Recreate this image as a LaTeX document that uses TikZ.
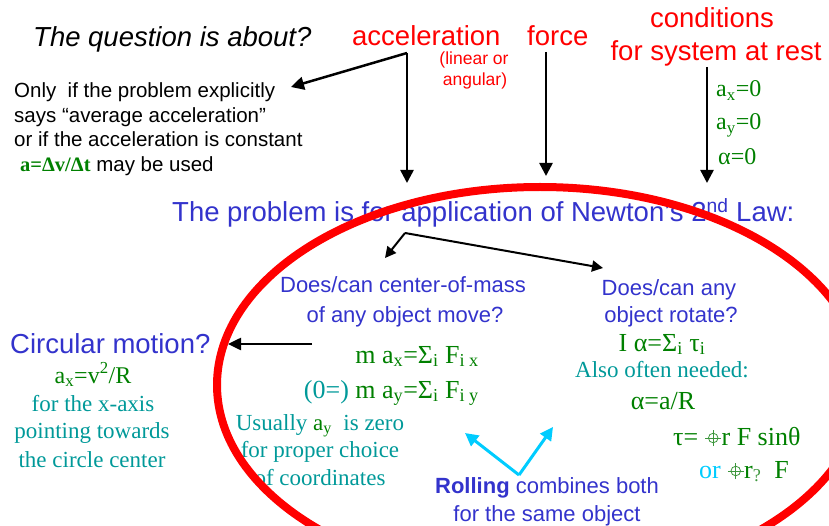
\documentclass[tikz,border=0pt]{standalone}
\usepackage{fontspec}
\setmainfont{Liberation Serif}
\newfontfamily\arialf{Liberation Sans}
\usetikzlibrary{arrows.meta}
\definecolor{myred}{RGB}{255,0,0}
\definecolor{myblue}{RGB}{51,51,204}
\definecolor{mygreen}{RGB}{0,128,0}
\definecolor{mylgreen}{RGB}{60,150,60}
\definecolor{myteal}{RGB}{0,153,153}
\definecolor{mycyan}{RGB}{0,204,255}
\newcommand\fsz[1]{\fontsize{#1}{#1}\selectfont}
\newcommand\xhair{\tikz[baseline=-7pt,x=1pt,y=1pt,line width=0.8pt,draw=mylgreen]{\draw (0,0) circle (4.8); \draw (-8,0)--(8,0) (0,-8)--(0,8);}}
\begin{document}
\begin{tikzpicture}[x=1pt,y=-1pt,
  bigsans/.style={font=\arialf\fsz{27.5}},
  midsans/.style={font=\arialf\fsz{20.5}},
  qsans/.style={font=\arialf\fsz{22}},
  smallsans/.style={font=\arialf\fsz{17.5}},
  eqserif/.style={font=\rmfamily\fsz{26},text=mygreen},
  tealserif/.style={font=\rmfamily\fsz{23},text=myteal},
  bigarrow/.style={line width=2.5pt,-{Triangle[length=13pt,width=13pt]}},
  midarrow/.style={line width=2pt,-{Triangle[length=11pt,width=11pt]}},
  cyanarrow/.style={line width=3pt,mycyan,-{Triangle[length=13pt,width=13pt]}},
  every node/.style={inner sep=0pt}]
\useasboundingbox (0,0) rectangle (829,526);
\clip (0,0) rectangle (829,526);
% top row
\node[bigsans,anchor=base west] (question) at (33,47) {\itshape The question is about?};
\node[bigsans,text=myred,anchor=base west] (accel) at (352,46) {acceleration};
\node[smallsans,text=myred,anchor=base] (lin1) at (474,65) {(linear or};
\node[smallsans,text=myred,anchor=base] (lin2) at (475,86) {angular)};
\node[bigsans,text=myred,anchor=base west] (force) at (527,46) {force};
\node[bigsans,text=myred,anchor=base] (cond1) at (712,28) {conditions};
\node[bigsans,text=myred,anchor=base] (cond2) at (716,61) {for system at rest};
% left block
\node[midsans,anchor=base west] (only1) at (14,98) {Only\ \ if the problem explicitly};
\node[midsans,anchor=base west] (only2) at (14,123) {says “average acceleration”};
\node[midsans,anchor=base west] (only3) at (14,147) {or if the acceleration is constant};
\node[midsans,anchor=base west] (only4) at (20,172) {{\rmfamily\bfseries\color{mygreen}a=Δv/Δt} may be used};
% rest conditions
\node[eqserif,font=\rmfamily\fsz{24},anchor=base west] (ax0) at (716,97) {a\textsubscript{x}=0};
\node[eqserif,font=\rmfamily\fsz{24},anchor=base west] (ay0) at (716,130) {a\textsubscript{y}=0};
\node[eqserif,font=\rmfamily\fsz{24},anchor=base west] (al0) at (718,165) {α=0};
% arrows from top
\coordinate (accfork) at (407,53);
\coordinate (acctip) at (407,183);
\coordinate (onlytip) at (291,87);
\coordinate (forcetop) at (546,52);
\coordinate (forcetip) at (546,176);
\coordinate (condtop) at (707,67);
\coordinate (condtip) at (707,183);
\draw[bigarrow] (accfork) -- (acctip);
\draw[bigarrow] (accfork) -- (onlytip);
\draw[bigarrow] (forcetop) -- (forcetip);
\draw[bigarrow] (condtop) -- (condtip);
% problem line
\node[bigsans,text=myblue,anchor=base west] (problem) at (172,222) {The problem is for application of Newton’s 2\textsuperscript{nd} Law:};
\coordinate (pfork) at (405,233);
\coordinate (comtip) at (385,258);
\coordinate (rottip) at (603,268);
\draw[midarrow] (pfork) -- (comtip);
\draw[midarrow] (pfork) -- (rottip);
% center of mass
\node[qsans,text=myblue,anchor=base] (com1) at (403,293) {Does/can center-of-mass};
\node[qsans,text=myblue,anchor=base] (com2) at (405,322) {of any object move?};
\node[eqserif,anchor=base east] (eqx) at (479,363) {m a\textsubscript{x}=Σ\textsubscript{i} F\textsubscript{i x}};
\node[eqserif,anchor=base east] (eqy) at (479,398) {\textcolor{myteal}{(0=)} m a\textsubscript{y}=Σ\textsubscript{i} F\textsubscript{i y}};
\node[tealserif,anchor=base] (u1) at (320,430) {Usually \textcolor{mygreen}{a\textsubscript{y}}\ \ is zero};
\node[tealserif,anchor=base] (u2) at (320,457) {for proper choice};
\node[tealserif,anchor=base] (u3) at (320,485) {of coordinates};
% circular motion
\node[bigsans,text=myblue,anchor=base west] (circ) at (10,353) {Circular motion?};
\coordinate (circtail) at (312,344);
\coordinate (circtip) at (228,344);
\draw[line width=2.5pt,-{Triangle[length=13pt,width=12pt]}] (circtail) -- (circtip);
\node[eqserif,font=\rmfamily\fsz{24},anchor=base] (circeq) at (93,383) {a\textsubscript{x}=v\textsuperscript{2}/R};
\node[tealserif,anchor=base] (c1) at (93,411) {for the x-axis};
\node[tealserif,anchor=base] (c2) at (92,438) {pointing towards};
\node[tealserif,anchor=base] (c3) at (92,467) {the circle center};
% rotation
\node[qsans,text=myblue,anchor=base] (rot1) at (669,296) {Does/can any};
\node[qsans,text=myblue,anchor=base] (rot2) at (671,323) {object rotate?};
\node[eqserif,anchor=base] (ialpha) at (662,351) {I α=Σ\textsubscript{i} τ\textsubscript{i}};
\node[tealserif,anchor=base] (also) at (662,377) {Also often needed:};
\node[eqserif,anchor=base] (alphar) at (663,409) {α=a/R};
\node[eqserif,anchor=base west] (tau) at (673,445) {τ= \xhair r F sinθ};
\node[eqserif,anchor=base west] (ortau) at (699,478) {\textcolor{mycyan}{or} \xhair r\textsubscript{\textcolor{mylgreen}{?}}\ \ F};
% rolling
\node[qsans,text=myblue,anchor=base] (roll1) at (547,493) {\textbf{Rolling} combines both};
\node[qsans,text=myblue,anchor=base] (roll2) at (547,521) {for the same object};
\coordinate (rollfork) at (519,475);
\coordinate (rollleft) at (465,433);
\coordinate (rollright) at (553,427);
\draw[cyanarrow] (rollfork) -- (rollleft);
\draw[cyanarrow] (rollfork) -- (rollright);
% red ellipse
\draw[myred,line width=8pt] (540,385) ellipse [x radius=323, y radius=198];
\end{tikzpicture}
\end{document}
